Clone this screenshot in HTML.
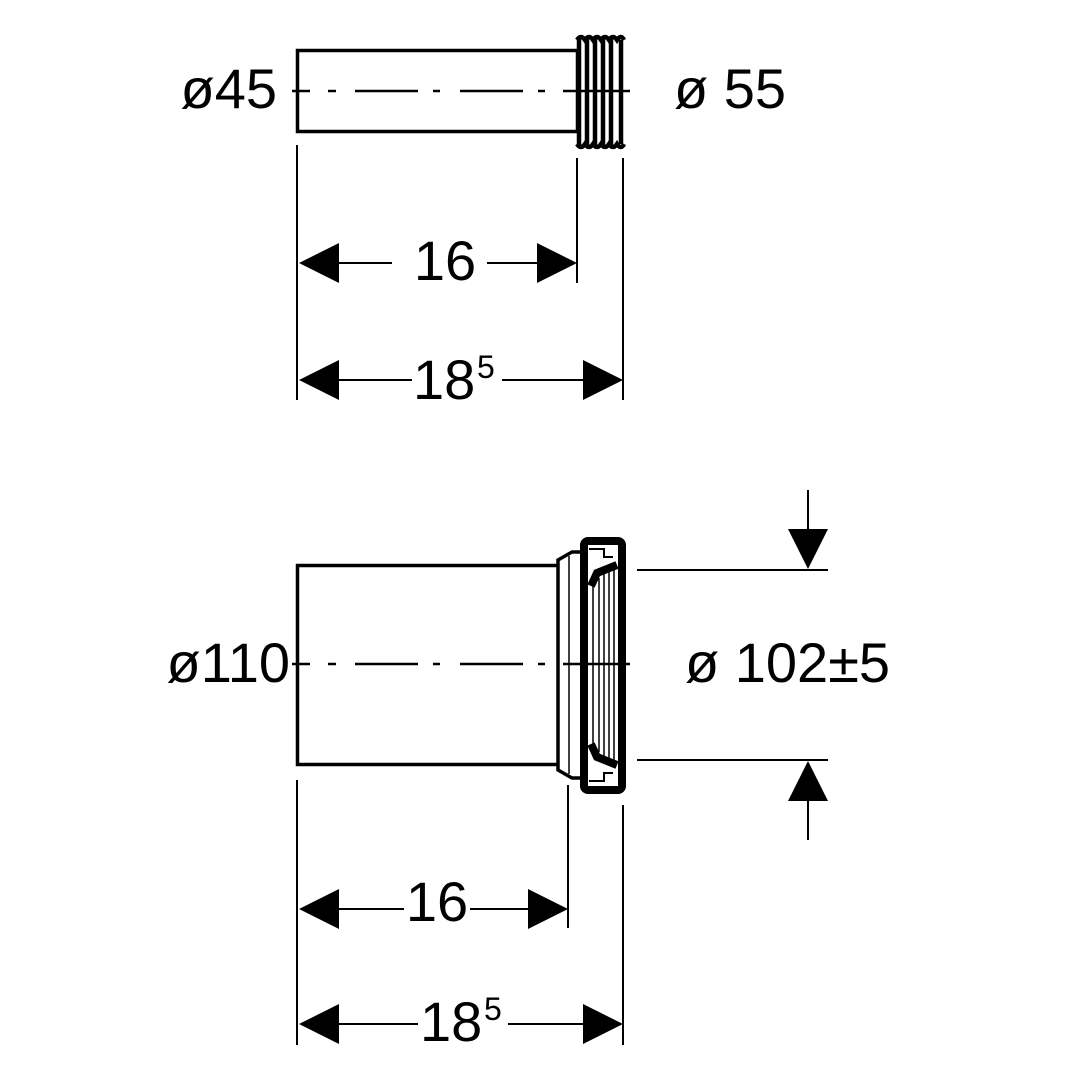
<!DOCTYPE html>
<html><head><meta charset="utf-8"><style>
html,body{margin:0;padding:0;background:#fff}
svg{display:block}
text{font-family:"Liberation Sans",sans-serif;fill:#000}
</style></head><body>
<svg width="1080" height="1080" viewBox="0 0 1080 1080" xmlns="http://www.w3.org/2000/svg">
<rect width="1080" height="1080" fill="#fff"/>
<g stroke="#000" fill="none">
<rect x="297.5" y="50.5" width="280" height="81" stroke-width="3.5"/>
<g stroke-width="4.5">
<line x1="579" y1="38" x2="579" y2="146"/>
<line x1="587" y1="38" x2="587" y2="146"/>
<line x1="595" y1="38" x2="595" y2="146"/>
<line x1="603" y1="38" x2="603" y2="146"/>
<line x1="611" y1="38" x2="611" y2="146"/>
<line x1="621" y1="40" x2="621" y2="144"/>
</g>
<path d="M577 40 q4 -6 8 0 q4 -6 8 0 q4 -6 8 0 q4 -6 8 0 q4 -6 8 0 q4 -6 7 0" stroke-width="4.5"/>
<path d="M577 144 q4 6 8 0 q4 6 8 0 q4 6 8 0 q4 6 8 0 q4 6 8 0 q4 6 7 0" stroke-width="4.5"/>
<g stroke-width="2.5">
<line x1="292" y1="91" x2="310" y2="91"/>
<line x1="328" y1="91" x2="336" y2="91"/>
<line x1="355" y1="91" x2="418" y2="91"/>
<line x1="433" y1="91" x2="440" y2="91"/>
<line x1="460" y1="91" x2="523" y2="91"/>
<line x1="538" y1="91" x2="545" y2="91"/>
<line x1="563" y1="91" x2="630" y2="91"/>
</g>
<g stroke-width="2">
<line x1="297" y1="145" x2="297" y2="400"/>
<line x1="577" y1="158" x2="577" y2="283"/>
<line x1="623" y1="158" x2="623" y2="400"/>
<line x1="338" y1="263" x2="392" y2="263"/>
<line x1="487" y1="263" x2="538" y2="263"/>
<line x1="338" y1="380" x2="412" y2="380"/>
<line x1="502" y1="380" x2="584" y2="380"/>
</g>

<rect x="297.5" y="565.5" width="261" height="199" stroke-width="3.5"/>
<path d="M558 560 L572 552 L582 552 L582 778 L572 778 L558 770 Z" stroke-width="3.5" fill="#fff"/>
<line x1="569" y1="556" x2="569" y2="774" stroke-width="1.5"/>
<rect x="584" y="541" width="38" height="249" rx="4" stroke-width="8" fill="#fff"/>
<line x1="584" y1="560" x2="584" y2="770" stroke-width="8"/>
<path d="M589 549 H604 V557 H613" stroke-width="2"/>
<path d="M589 781 H604 V773 H613" stroke-width="2"/>
<path d="M617 565 L597 573 L591 586" stroke-width="8"/>
<path d="M617 765 L597 757 L591 744" stroke-width="8"/>
<g stroke-width="1.5">
<line x1="593" y1="585" x2="593" y2="745"/>
<line x1="599" y1="578" x2="599" y2="752"/>
<line x1="604" y1="574" x2="604" y2="756"/>
<line x1="609" y1="572" x2="609" y2="758"/>
<line x1="614" y1="570" x2="614" y2="760"/>
</g>
<g stroke-width="2.5">
<line x1="292" y1="664" x2="310" y2="664"/>
<line x1="328" y1="664" x2="336" y2="664"/>
<line x1="355" y1="664" x2="418" y2="664"/>
<line x1="433" y1="664" x2="440" y2="664"/>
<line x1="460" y1="664" x2="523" y2="664"/>
<line x1="538" y1="664" x2="545" y2="664"/>
<line x1="563" y1="664" x2="630" y2="664"/>
</g>
<g stroke-width="2">
<line x1="637" y1="570" x2="828" y2="570"/>
<line x1="637" y1="760" x2="828" y2="760"/>
<line x1="808" y1="490" x2="808" y2="530"/>
<line x1="808" y1="800" x2="808" y2="840"/>
<line x1="297" y1="780" x2="297" y2="1045"/>
<line x1="568" y1="785" x2="568" y2="928"/>
<line x1="623" y1="805" x2="623" y2="1045"/>
<line x1="338" y1="909" x2="404" y2="909"/>
<line x1="470" y1="909" x2="529" y2="909"/>
<line x1="338" y1="1024" x2="418" y2="1024"/>
<line x1="508" y1="1024" x2="584" y2="1024"/>
</g>
</g>
<g fill="#000">
<polygon points="299,263 339,243 339,283"/>
<polygon points="577,263 537,243 537,283"/>
<polygon points="299,380 339,360 339,400"/>
<polygon points="623,380 583,360 583,400"/>
<polygon points="299,909 339,889 339,929"/>
<polygon points="568,909 528,889 528,929"/>
<polygon points="299,1024 339,1004 339,1044"/>
<polygon points="623,1024 583,1004 583,1044"/>
<polygon points="808,569 788,529 828,529"/>
<polygon points="808,761 788,801 828,801"/>
</g>
<text x="277" y="108" font-size="56" text-anchor="end">ø45</text>
<text x="674" y="108" font-size="56">ø 55</text>
<text x="445" y="280" font-size="56" text-anchor="middle">16</text>
<text x="413" y="399" font-size="56">18</text>
<text x="477" y="378" font-size="32">5</text>
<text x="290" y="682" font-size="56" text-anchor="end">ø110</text>
<text x="685" y="682" font-size="56">ø 102±5</text>
<text x="437" y="921" font-size="56" text-anchor="middle">16</text>
<text x="420" y="1041" font-size="56">18</text>
<text x="484" y="1020" font-size="32">5</text>
</svg>
</body></html>
